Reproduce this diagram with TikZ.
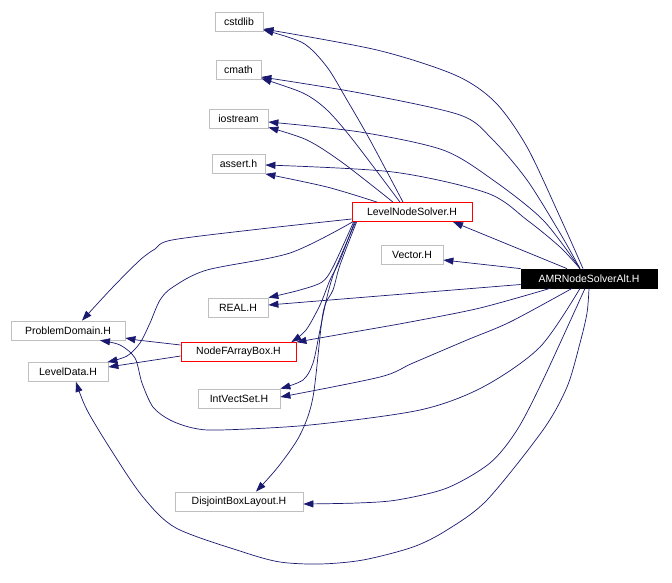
\documentclass[tikz,border=0pt]{standalone}
\usepackage{fontspec}
\newfontfamily\dotfont{Liberation Sans}
\usetikzlibrary{arrows.meta}
\definecolor{edgeblue}{RGB}{25,25,112}
\definecolor{boxgray}{RGB}{191,191,191}
\tikzset{
  hdr/.style={draw=boxgray, line width=0.8pt, minimum width=#1, minimum height=19pt,
    inner sep=0pt, font=\dotfont\fontsize{10.5}{12}\selectfont},
  hdrred/.style={hdr=#1, draw=red},
  hdrmain/.style={hdr=#1, draw=black, fill=black, text=white},
  dep/.style={draw=edgeblue, line width=0.7pt, -{Triangle[length=10pt,width=7pt]}}
}

\begin{document}
\begin{tikzpicture}[x=1pt,y=-1pt]
\useasboundingbox (0,0) rectangle (672,582);
% headers
\node[hdr=48pt] (cstdlib) at (239,22) {cstdlib};
\node[hdr=45pt] (cmath) at (238.5,70) {cmath};
\node[hdr=59pt] (iostream) at (238.5,118.5) {iostream};
\node[hdr=53pt] (assert) at (238.5,164) {assert.h};
\node[hdrred=120pt] (lns) at (412,212) {LevelNodeSolver.H};
\node[hdr=62pt] (vector) at (412,254.5) {Vector.H};
\node[hdrmain=136pt] (amr) at (589,278.5) {AMRNodeSolverAlt.H};
\node[hdr=60pt] (real) at (238,307.5) {REAL.H};
\node[hdr=114pt] (pd) at (68,330.5) {ProblemDomain.H};
\node[hdrred=115pt] (nfa) at (238.5,352) {NodeFArrayBox.H};
\node[hdr=80pt] (ld) at (68,372) {LevelData.H};
\node[hdr=82pt] (ivs) at (239,398.5) {IntVectSet.H};
\node[hdr=128pt] (dbl) at (239,501.5) {DisjointBoxLayout.H};

% AMRNodeSolverAlt.H
\draw[dep] plot[smooth] coordinates {([xshift=-6pt]amr.north) (560,217) (527,147) (495,102) (455,75) (377,50) ([yshift=-7pt]cstdlib.east)};
\draw[dep] plot[smooth] coordinates {([xshift=-9pt]amr.north) (560,233) (527,180) (493,140) (460,115) (360,93) ([yshift=-7pt]cmath.east)};
\draw[dep] plot[smooth] coordinates {([xshift=-9pt]amr.north) (543,220) (493,180) (443,150) (360,132) ([yshift=-3.5pt]iostream.east)};
\draw[dep] plot[smooth] coordinates {([xshift=-9pt]amr.north) (560,247) (527,220) (487,193) (393,172) ([yshift=-1pt]assert.east)};
\draw[dep] ([xshift=-22pt]amr.north) -- ([xshift=41pt]lns.south);
\draw[dep] (amr.north west) -- ([yshift=-5.5pt]vector.east);
\draw[dep] ([yshift=-6pt]amr.west) -- ([yshift=2.5pt]real.east);
\draw[dep] plot[smooth] coordinates {([xshift=-39pt]amr.south) (480,308) (410,322) (348,333) (nfa.north east)};
\draw[dep] plot[smooth] coordinates {([xshift=-17pt]amr.south) (510,322) (467,340) (413,363) (380,377) ([yshift=1.5pt]ivs.east)};
\draw[dep] plot[smooth] coordinates {([xshift=-9pt]amr.south) (540,347) (483,387) (420,410) (310,425) (220,430) (193,428) (170,420) (153,407) (142,383) (135,358) (120,345) ([xshift=32pt]pd.south)};
\draw[dep] plot[smooth] coordinates {([xshift=-4pt]amr.south) (543,380) (517,430) (490,463) (447,488) (397,500) (357,503) ([yshift=-2.5pt]dbl.east)};
\draw[dep] plot[smooth] coordinates {(amr.south) (587,313) (580,343) (567,387) (543,430) (487,500) (447,530) (413,547) (363,560) (320,564) (280,562) (243,552) (176,528) (143,497) (113,453) (87,410) ([xshift=8pt]ld.south)};

% LevelNodeSolver.H
\draw[dep] plot[smooth] coordinates {([xshift=-9pt]lns.north) (370,140) (347,100) (327,67) (303,43) ([yshift=-8pt]cstdlib.east)};
\draw[dep] plot[smooth] coordinates {([xshift=-12pt]lns.north) (353,140) (327,110) (303,93) ([yshift=-8.5pt]cmath.east)};
\draw[dep] plot[smooth] coordinates {([xshift=-19pt]lns.north) (343,163) (307,140) ([yshift=1pt]iostream.south east)};
\draw[dep] plot[smooth] coordinates {([xshift=-35pt]lns.north) (327,187) (assert.south east)};
\draw[dep] plot[smooth] coordinates {([yshift=-7pt]lns.west) (260,229) (172,240) (155,249) (140,260) (112,288) ([xshift=14pt]pd.north)};
\draw[dep] plot[smooth] coordinates {([xshift=1pt]lns.south west) (290,253) (207,270) (173,287) (160,300) (150,323) (140,343) (127,356) ([xshift=-1pt]ld.north east)};
\draw[dep] plot[smooth] coordinates {([xshift=2pt]lns.south west) (333,267) (322,282) (300,290) (real.north east)};
\draw[dep] plot[smooth] coordinates {([xshift=3pt]lns.south west) (340,260) (330,280) (320,305) (306,330) ([xshift=-5pt]nfa.north east)};
\draw[dep] plot[smooth] coordinates {([xshift=4pt]lns.south west) (335,270) (327,297) (320,330) (313,363) (303,380) (ivs.north east)};
\draw[dep] plot[smooth] coordinates {([xshift=5pt]lns.south west) (340,265) (333,290) (323,313) (313,397) (300,435) (278,467) ([xshift=17pt]dbl.north)};

% NodeFArrayBox.H
\draw[dep] ([yshift=7pt]nfa.west) -- (137,340) -- ([yshift=-7.5pt]pd.east);
\draw[dep] ([yshift=-4pt]nfa.west) -- ([yshift=5pt]ld.east);
\end{tikzpicture}
\end{document}
